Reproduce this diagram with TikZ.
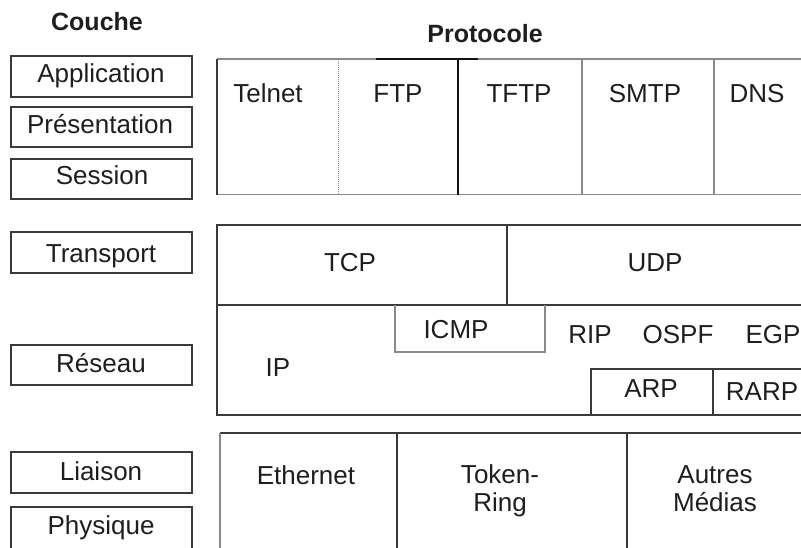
\documentclass[tikz,border=0pt]{standalone}
\usepackage{fontspec}
\setmainfont{Liberation Sans}
\definecolor{ink}{HTML}{1E1E1E}
\definecolor{edge}{HTML}{3A3A3A}
\definecolor{lightedge}{HTML}{8A8A8A}
\definecolor{blackedge}{HTML}{111111}
\newcommand{\lblfont}{\fontsize{26}{28}\selectfont}
\newcommand{\headfont}{\fontsize{25}{28}\selectfont\bfseries}
\begin{document}
\begin{tikzpicture}[x=1pt,y=-1pt,
  box/.style={draw=edge, line width=1.5pt},
  soft/.style={draw=lightedge, line width=1.3pt},
  lbl/.style={font=\lblfont, text=ink, inner sep=0pt, anchor=base},
  lbl2/.style={font=\lblfont, text=ink, inner sep=0pt, align=center},
  head/.style={font=\headfont, text=ink, inner sep=0pt, anchor=base}]
\useasboundingbox (0,0) rectangle (801,547);
\clip (0,0) rectangle (801,547);

% ---------- headings
\node[head] (couche) at (97,30) {Couche};
\node[head] (protocole) at (485,42) {Protocole};

% ---------- layer boxes (left column)
\draw[box] (11,56) rectangle (192,97);
\draw[box] (11,107) rectangle (192,147);
\draw[box] (11,159) rectangle (192,199);
\draw[box] (11,232) rectangle (192,273);
\draw[box] (11,345) rectangle (192,385);
\draw[box] (11,452) rectangle (192,493);
\draw[box] (11,507) rectangle (192,560);

\node[lbl] (application) at (101,82) {Application};
\node[lbl] (presentation) at (100,133) {Présentation};
\node[lbl] (session) at (102,184) {Session};
\node[lbl] (transport) at (101,262) {Transport};
\node[lbl] (reseau) at (101,372) {Réseau};
\node[lbl] (liaison) at (101,480) {Liaison};
\node[lbl] (physique) at (101,534) {Physique};

% ---------- application protocols
\draw[soft] (217,59) -- (820,59);
\draw[soft] (217,194.5) -- (820,194.5);
\draw[draw=blackedge, line width=1.8pt] (376,59) -- (478,59);
\draw[box] (217,59) -- (217,194.5);
\draw[soft, line width=1pt, densely dotted] (338,59) -- (338,194.5);
\draw[draw=blackedge, line width=1.5pt] (458,59) -- (458,194.5);
\draw[soft] (582,59) -- (582,194.5);
\draw[soft] (714,59) -- (714,194.5);

\node[lbl] (telnet) at (268,102) {Telnet};
\node[lbl] (ftp) at (398,102) {FTP};
\node[lbl] (tftp) at (519,102) {TFTP};
\node[lbl] (smtp) at (645,102) {SMTP};
\node[lbl] (dns) at (757,102) {DNS};

% ---------- transport and network
\draw[box] (820,225) -- (217,225) -- (217,415) -- (820,415);
\draw[box] (217,305) -- (820,305);
\draw[box] (507,225) -- (507,305);
\draw[soft] (395,305) -- (395,352) -- (545,352) -- (545,305);
\draw[box] (591,415) -- (591,369) -- (820,369);
\draw[box] (713,369) -- (713,415);

\node[lbl] (tcp) at (350,271) {TCP};
\node[lbl] (udp) at (655,271) {UDP};
\node[lbl] (icmp) at (456,338) {ICMP};
\node[lbl] (rip) at (590,343) {RIP};
\node[lbl] (ospf) at (678,343) {OSPF};
\node[lbl] (egp) at (773,343) {EGP};
\node[lbl] (ip) at (278,376) {IP};
\node[lbl] (arp) at (651,397) {ARP};
\node[lbl] (rarp) at (762,400) {RARP};

% ---------- link / physical media
\draw[box] (820,433) -- (220,433);
\draw[soft] (220,433) -- (220,560);
\draw[box] (397,433) -- (397,560);
\draw[box] (627,433) -- (627,560);

\node[lbl] (ethernet) at (306,484) {Ethernet};
\node[lbl2] (token) at (500,491) {Token-\\Ring};
\node[lbl2] (autres) at (715,489) {Autres\\Médias};
\end{tikzpicture}
\end{document}
